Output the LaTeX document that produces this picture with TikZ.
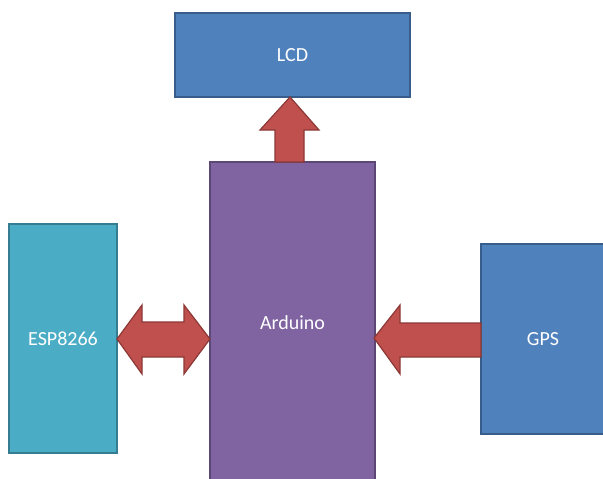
\documentclass[tikz,border=0pt]{standalone}
\usepackage{fontspec}
\setmainfont{Carlito}
\definecolor{blueF}{HTML}{4F81BD}
\definecolor{blueD}{HTML}{385D8A}
\definecolor{aquaF}{HTML}{4BACC6}
\definecolor{aquaD}{HTML}{357D91}
\definecolor{purpF}{HTML}{8064A2}
\definecolor{purpD}{HTML}{5C4776}
\definecolor{redF}{HTML}{C0504D}
\definecolor{redD}{HTML}{8C3836}
\begin{document}
\begin{tikzpicture}[x=1pt,y=-1pt,
  box/.style={rectangle, draw, line width=1.3pt, text=white, inner sep=0pt,
    font=\fontsize{20}{24}\selectfont},
  blockarrow/.style={fill=redF, draw=redD, line width=1.2pt, line join=miter}]
\useasboundingbox (0,0) rectangle (603,479);
\clip (0,0) rectangle (603,479);
\node[box, fill=blueF, draw=blueD, minimum width=235pt, minimum height=84pt] (lcd) at (292.5,55) {LCD};
\node[box, fill=purpF, draw=purpD, minimum width=165pt, minimum height=322pt] (ard) at (292.5,323) {Arduino};
\node[box, fill=aquaF, draw=aquaD, minimum width=108pt, minimum height=229pt] (esp) at (63,338.5) {ESP8266};
\node[box, fill=blueF, draw=blueD, minimum width=124pt, minimum height=190pt] (gps) at (543,339) {GPS};
% up arrow Arduino -> LCD
\draw[blockarrow] (290,97) -- (319,130) -- (304,130) -- (304,162) -- (275,162) -- (275,130) -- (260,130) -- cycle;
% double arrow ESP <-> Arduino
\draw[blockarrow] (117,339) -- (142,305) -- (142,322) -- (184,322) -- (184,305) -- (210,339) -- (184,374) -- (184,357) -- (142,357) -- (142,374) -- cycle;
% left arrow GPS -> Arduino
\draw[blockarrow] (374,338) -- (400,305) -- (400,323) -- (481,323) -- (481,357) -- (400,357) -- (400,374) -- cycle;
\end{tikzpicture}
\end{document}
